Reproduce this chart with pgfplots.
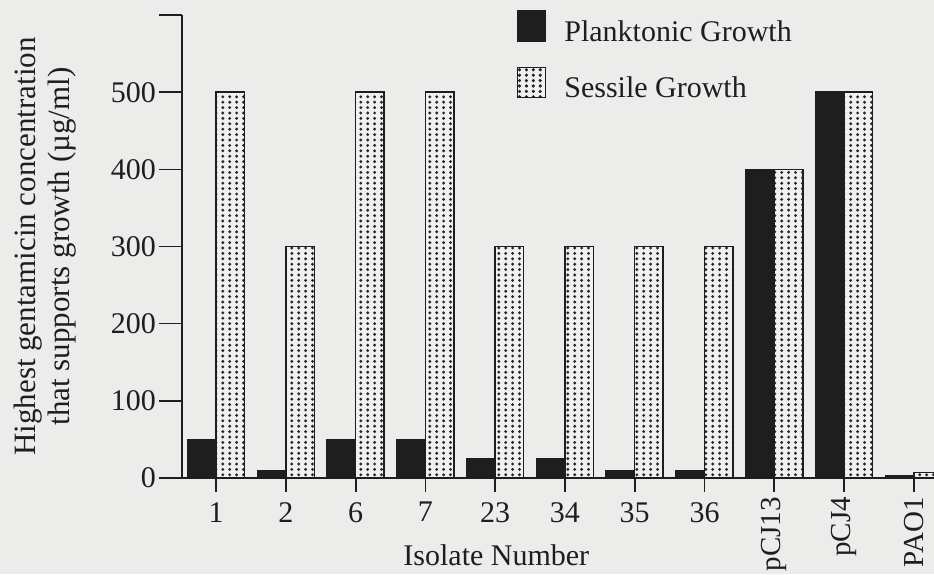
\documentclass[border=0pt]{standalone}
\usepackage{fontspec}
\setmainfont{Liberation Serif}
\usepackage{pgfplots}
\pgfplotsset{compat=1.18}
\usetikzlibrary{patterns}
\definecolor{bgc}{RGB}{236,236,234}
\definecolor{ink}{RGB}{30,30,30}
\newcommand\rl[1]{\rotatebox{90}{\fontsize{29}{30}\selectfont #1\kern-5pt}}
\pgfdeclarepatternformonly{bigdots}{\pgfqpoint{-1pt}{-1pt}}{\pgfqpoint{6pt}{5pt}}{\pgfqpoint{6.9pt}{5.4pt}}{\pgfpathcircle{\pgfqpoint{2pt}{2pt}}{1.6pt}\pgfusepath{fill}}
\begin{document}
\fontsize{30}{34}\selectfont
\begin{tikzpicture}
\fill[bgc] (0,0) rectangle (934pt,574pt);
\begin{axis}[
  at={(182pt,96pt)}, anchor=south west,
  scale only axis, width=752pt, height=463pt,
  ybar=0pt, bar width=28.5pt,
  xmin=-0.49, xmax=10.29, ymin=0, ymax=600,
  axis x line=bottom, axis y line=left,
  axis line style={-, line width=1.6pt, ink},
  tick align=outside, major tick length=14pt,
  tick style={line width=1.6pt, ink},
  xtick={0,...,10},
  xticklabels={1,2,6,7,23,34,35,36,\rl{pCJ13},\rl{pCJ4},\rl{PAO1}},
  ytick=\empty,
  extra y ticks={0,100,200,300,400,500,600},
  extra y tick labels={0,100,200,300,400,500,{}},
  extra y tick style={major tick length=23pt, yticklabel style={inner sep=3pt, text=ink}},
  yticklabel style={inner sep=3pt, text=ink},
  xticklabel style={text=ink},
  xlabel={Isolate Number},
  xlabel style={at={(axis description cs:0.418,-0.188)}, anchor=base, text=ink},
  ylabel={\fontsize{31}{32}\selectfont Highest gentamicin concentration\\\fontsize{31}{32}\selectfont that supports growth (µg/ml)},
  ylabel style={at={(axis description cs:-0.182,0.5)}, anchor=center, align=center, text=ink},
  legend style={at={(axis description cs:0.445,1.011)}, anchor=north west, draw=none, fill=none,
    inner sep=0pt, row sep=19pt, column sep=16pt, cells={anchor=west}, text=ink},
]
\addplot[fill=ink, draw=ink, line width=1.5pt,
  legend image code/.code={\draw[fill=ink, draw=ink, line width=1.5pt] (0pt,-8pt) rectangle (28pt,22pt);}]
  coordinates {(0,50) (1,10) (2,50) (3,50) (4,25) (5,25) (6,10) (7,10) (8,400) (9,500) (10,3)};
\addlegendentry{Planktonic Growth}
\addplot[fill=white!88!gray, draw=ink, line width=1.5pt, postaction={pattern=bigdots, pattern color=black!85},
  legend image code/.code={\draw[fill=white!88!gray, draw=ink, line width=1.5pt, postaction={pattern=bigdots, pattern color=black!85}] (0pt,-8pt) rectangle (28pt,22pt);}]
  coordinates {(0,500) (1,300) (2,500) (3,500) (4,300) (5,300) (6,300) (7,300) (8,400) (9,500) (10,7)};
\addlegendentry{Sessile Growth}
\end{axis}
\pgfresetboundingbox
\useasboundingbox (0,0) rectangle (934pt,574pt);
\end{tikzpicture}
\end{document}
